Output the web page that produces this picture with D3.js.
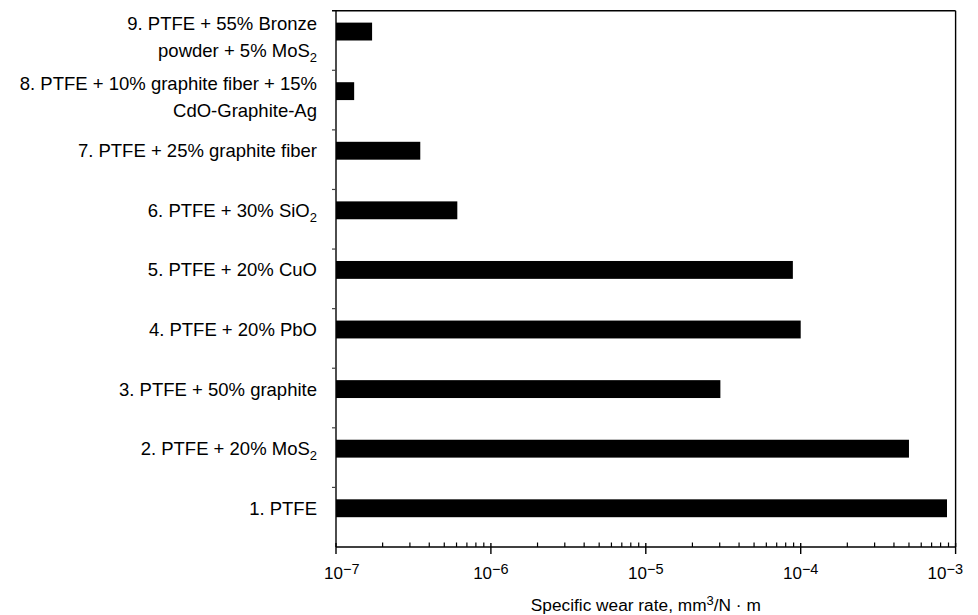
<!DOCTYPE html>
<html>
<head>
<meta charset="utf-8">
<script src="https://cdn.jsdelivr.net/npm/d3@7"></script>
<style>
  html, body { margin: 0; padding: 0; background: #fff; }
  svg text { font-family: "Liberation Sans", Arial, Helvetica, sans-serif; fill: #000; }
</style>
</head>
<body>
<svg id="chart" width="978" height="615"></svg>
<script>
// ---- data ----
const categories = ["9", "8", "7", "6", "5", "4", "3", "2", "1"];
const wearRates = [1.71e-7, 1.31e-7, 3.5e-7, 6.07e-7, 8.9e-5, 1.0e-4, 3.03e-5, 5.0e-4, 8.8e-4];
const labelLines = [
  ["9. PTFE + 55% Bronze", "powder + 5% MoS_2"],
  ["8. PTFE + 10% graphite fiber + 15%", "CdO-Graphite-Ag"],
  ["7. PTFE + 25% graphite fiber"],
  ["6. PTFE + 30% SiO_2"],
  ["5. PTFE + 20% CuO"],
  ["4. PTFE + 20% PbO"],
  ["3. PTFE + 50% graphite"],
  ["2. PTFE + 20% MoS_2"],
  ["1. PTFE"]
];
const majorTicks = [1e-7, 1e-6, 1e-5, 1e-4, 1e-3];
const tickExponents = ["−7", "−6", "−5", "−4", "−3"];
const xTitle = ["Specific wear rate, mm", "3", "/N · m"];

// ---- layout ----
const margin = { left: 336, right: 978 - 955.6, top: 10.7, bottom: 615 - 547 };
const W = 978, H = 615;
const svg = d3.select("#chart");

const x = d3.scaleLog().domain([1e-7, 1e-3]).range([margin.left, W - margin.right]);
const y = d3.scaleBand().domain(categories).range([margin.top, H - margin.bottom]).padding(0);
const bw = y.bandwidth();
const barCenter = c => y(c) + bw * 0.35;
const barH = bw * 0.3;

const x0 = x.range()[0], x1 = x.range()[1];
const yTop = y.range()[0], yBot = y.range()[1];

// bars
svg.append("g").selectAll("rect")
  .data(categories)
  .join("rect")
  .attr("x", x0)
  .attr("y", (c) => barCenter(c) - barH / 2)
  .attr("width", (c, i) => x(wearRates[i]) - x0)
  .attr("height", barH)
  .attr("fill", "#000");

// frame
const frame = svg.append("g").attr("stroke", "#000").attr("stroke-width", 1.4).attr("fill", "none");
frame.append("line").attr("x1", x0 - 4).attr("x2", x1).attr("y1", yTop).attr("y2", yTop);
frame.append("line").attr("x1", x1).attr("x2", x1).attr("y1", yTop).attr("y2", yBot);
frame.append("line").attr("x1", x0).attr("x2", x0).attr("y1", yTop).attr("y2", yBot);
frame.append("line").attr("x1", x0).attr("x2", x1).attr("y1", yBot).attr("y2", yBot);

// category boundary ticks (left, outward)
svg.append("g").attr("stroke", "#444").attr("stroke-width", 1.2)
  .selectAll("line")
  .data(categories.slice(1))
  .join("line")
  .attr("x1", x0 - 4).attr("x2", x0)
  .attr("y1", c => y(c)).attr("y2", c => y(c));

// minor ticks (inward)
const minor = [];
majorTicks.slice(0, -1).forEach(d => { for (let k = 2; k <= 9; k++) minor.push(d * k); });
svg.append("g").attr("stroke", "#000").attr("stroke-width", 1.2)
  .selectAll("line")
  .data(minor)
  .join("line")
  .attr("x1", d => x(d)).attr("x2", d => x(d))
  .attr("y1", yBot - 4.5).attr("y2", yBot);

// major ticks (crossing)
svg.append("g").attr("stroke", "#000").attr("stroke-width", 1.4)
  .selectAll("line")
  .data(majorTicks)
  .join("line")
  .attr("x1", d => x(d)).attr("x2", d => x(d))
  .attr("y1", yBot - 4).attr("y2", yBot + 7);

// major tick labels
const tl = svg.append("g").selectAll("text")
  .data(majorTicks)
  .join("text")
  .attr("x", d => x(d))
  .attr("y", yBot + 32)
  .attr("text-anchor", "middle")
  .style("font-size", "17px");
tl.append("tspan").text("10");
tl.append("tspan").attr("dy", -5).style("font-size", "14.5px").text((d, i) => tickExponents[i]);
// keep labels inside the page edge
tl.each(function (d) {
  const w = this.getComputedTextLength();
  const cx = Math.max(x(d), 324 + w / 2);
  const cx2 = Math.min(cx, W - 15 - w / 2);
  d3.select(this).attr("x", cx2);
});

// x axis title
const tt = svg.append("text")
  .attr("x", (x0 + x1) / 2)
  .attr("y", yBot + 64)
  .attr("text-anchor", "middle")
  .style("font-size", "17.3px");
tt.append("tspan").text(xTitle[0]);
tt.append("tspan").attr("dy", -6).style("font-size", "13px").text(xTitle[1]);
tt.append("tspan").attr("dy", 6).text(xTitle[2]);

// category labels
const labelX = x0 - 19;
function addLine(sel, str) {
  const parts = str.split("_");
  sel.append("tspan").text(parts[0]);
  if (parts.length > 1) {
    sel.append("tspan").attr("dy", 5).style("font-size", "13px").text(parts[1]);
  }
}
categories.forEach((c, i) => {
  const lines = labelLines[i];
  const cy = barCenter(c);
  lines.forEach((ln, j) => {
    const lineCenter = lines.length > 1 ? cy - 8 + j * 27 : cy;
    const t = svg.append("text")
      .attr("x", labelX)
      .attr("y", lineCenter + 6.5)
      .attr("text-anchor", "end")
      .style("font-size", "18.5px");
    addLine(t, ln);
  });
});
</script>
</body>
</html>
